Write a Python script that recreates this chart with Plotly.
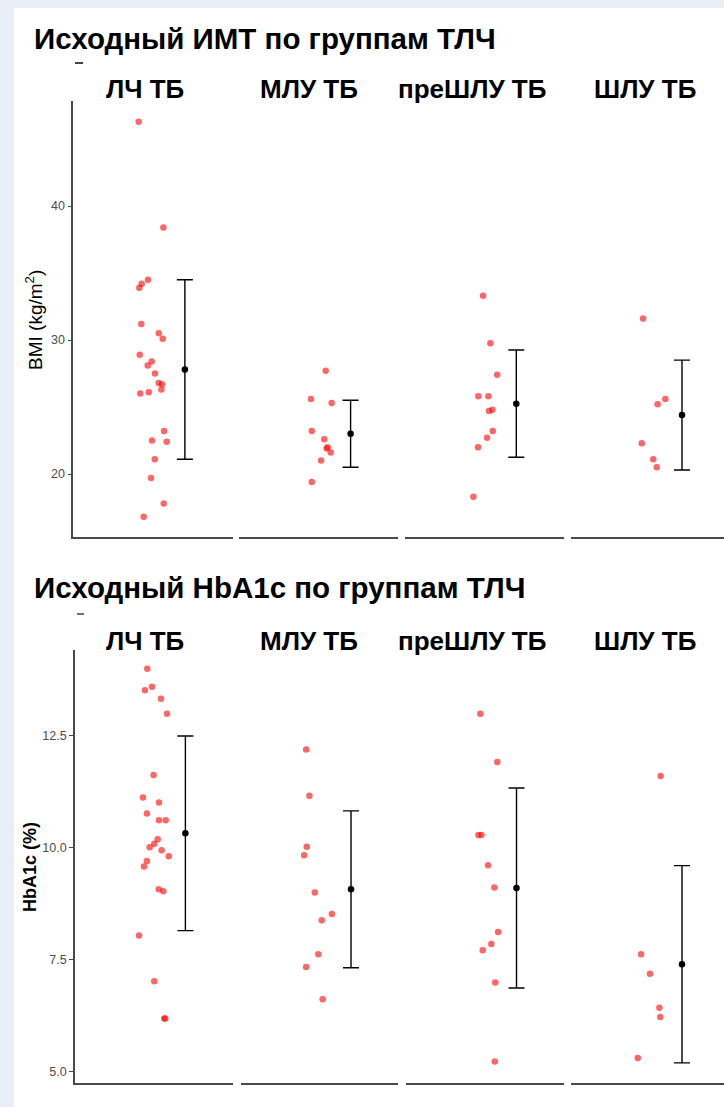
import plotly.graph_objects as go

W, H = 724, 1107

groups = ["ЛЧ ТБ", "МЛУ ТБ", "преШЛУ ТБ", "ШЛУ ТБ"]

# ---- BMI (top chart) ----
bmi_lch = [46.3, 38.4, 34.5, 34.2, 33.9, 31.2, 30.5, 30.1, 28.9, 28.1, 28.4, 27.5,
           26.8, 26.7, 26.3, 26.0, 26.1, 23.2, 22.5, 22.4, 21.1, 19.7, 17.8, 16.8]
bmi_lch_jit = [-0.108, 0.078, -0.038, -0.085, -0.103, -0.088, 0.043, 0.073, -0.100, -0.040,
               -0.010, 0.015, 0.043, 0.068, 0.063, -0.096, -0.032, 0.083, -0.008, 0.103,
               0.013, -0.015, 0.081, -0.070]
bmi_mlu = [27.7, 25.6, 25.3, 23.2, 22.6, 22.0, 21.9, 21.6, 21.0, 19.4]
bmi_mlu_jit = [0.052, -0.059, 0.097, -0.053, 0.041, 0.067, 0.059, 0.090, 0.017, -0.053]
bmi_pre = [33.3, 29.75, 27.4, 25.8, 25.8, 24.7, 24.8, 23.2, 22.7, 22.0, 18.3]
bmi_pre_jit = [-0.011, 0.044, 0.096, -0.047, 0.029, 0.034, 0.059, 0.062, 0.019, -0.049, -0.084]
bmi_shlu = [31.6, 25.6, 25.2, 22.3, 21.1, 20.5]
bmi_shlu_jit = [-0.054, 0.114, 0.056, -0.064, 0.023, 0.049]
bmi_mean = [27.8, 23.0, 25.25, 24.4]
bmi_sd = [6.7, 2.5, 4.0, 4.1]
bmi_ticks = [20, 30, 40]

# ---- HbA1c (bottom chart) ----
hba_lch = [13.99, 13.51, 13.59, 13.32, 12.99, 11.62, 11.12, 11.01, 10.76, 10.61, 10.61, 10.19,
           10.09, 10.01, 9.94, 9.81, 9.70, 9.58, 9.07, 9.03, 8.04, 7.02, 6.19, 6.19]
hba_lch_jit = [-0.050, -0.068, -0.014, 0.054, 0.100, -0.002, -0.083, 0.039, -0.053, 0.039,
               0.090, 0.029, 0.003, -0.032, 0.059, 0.113, -0.053, -0.075, 0.037, 0.072,
               -0.113, 0.003, 0.079, 0.087]
hba_mlu = [12.19, 11.16, 10.02, 9.83, 9.00, 8.52, 8.38, 7.62, 7.34, 6.62]
hba_mlu_jit = [-0.102, -0.077, -0.097, -0.117, -0.036, 0.094, 0.017, -0.009, -0.102, 0.024]
hba_pre = [12.99, 11.91, 10.28, 10.28, 9.61, 9.11, 8.12, 7.85, 7.71, 6.99, 5.23]
hba_pre_jit = [-0.034, 0.094, -0.049, -0.026, 0.024, 0.072, 0.100, 0.049, -0.016, 0.079, 0.075]
hba_shlu = [11.60, 7.62, 7.19, 6.43, 6.22, 5.31]
hba_shlu_jit = [0.079, -0.069, -0.002, 0.069, 0.076, -0.094]
hba_mean = [10.32, 9.07, 9.10, 7.40]
hba_sd = [2.17, 1.75, 2.23, 2.20]
hba_ticks = [5.0, 7.5, 10.0, 12.5]
hba_ticklabels = ["5.0", "7.5", "10.0", "12.5"]

MEAN_NUDGE = 0.24

def px(x):
    return x / W

def py(y):
    return 1 - y / H

FONT = "Liberation Sans, Arial, sans-serif"
AX_COLOR = "#4a4a4a"

fig = go.Figure()

# panel pixel geometry
top_x = [(73.3, 232.7), (239.3, 398.3), (405.0, 564.0), (570.7, 729.7)]
bot_x = [(75.0, 232.7), (240.7, 398.3), (405.7, 564.0), (570.7, 729.7)]
top_y = (101.0, 536.7)
bot_y = (650.0, 1083.0)
top_range = [15.32, 47.84]
bot_range = [4.75, 14.41]

bmi_pts = [(bmi_lch, bmi_lch_jit), (bmi_mlu, bmi_mlu_jit), (bmi_pre, bmi_pre_jit), (bmi_shlu, bmi_shlu_jit)]
hba_pts = [(hba_lch, hba_lch_jit), (hba_mlu, hba_mlu_jit), (hba_pre, hba_pre_jit), (hba_shlu, hba_shlu_jit)]

layout_axes = {}

def add_block(row, pts, means, sds, xgeom, ygeom, yrange, tickvals, ticktext):
    for i in range(4):
        n = row * 4 + i + 1
        sfx = "" if n == 1 else str(n)
        vals, jit = pts[i]
        fig.add_trace(go.Scatter(
            x=[1 + j for j in jit], y=vals, mode="markers",
            marker=dict(size=6.5, color="rgba(255,0,0,0.6)", line=dict(width=0)),
            xaxis="x" + sfx, yaxis="y" + sfx, showlegend=False, hoverinfo="y"))
        fig.add_trace(go.Scatter(
            x=[1 + MEAN_NUDGE], y=[means[i]], mode="markers",
            marker=dict(size=6.5, color="black"),
            error_y=dict(type="data", array=[sds[i]], visible=True, color="black",
                         thickness=1.4, width=8),
            xaxis="x" + sfx, yaxis="y" + sfx, showlegend=False))
        x0, x1 = xgeom[i]
        unit = (x1 - x0) / 1.2
        right = min(x1, W)
        xr = [0.4, 0.4 + (right - x0) / unit]
        layout_axes["xaxis" + sfx] = dict(
            domain=[px(x0), px(right)], range=xr, anchor="y" + sfx,
            showline=True, linecolor=AX_COLOR, linewidth=1.6, showgrid=False,
            zeroline=False, showticklabels=False, ticks="", fixedrange=True)
        ya = dict(domain=[py(ygeom[1]), py(ygeom[0])], range=yrange, anchor="x" + sfx,
                  showgrid=False, zeroline=False, fixedrange=True)
        if i == 0:
            ya.update(showline=True, linecolor=AX_COLOR, linewidth=1.6,
                      ticks="outside", ticklen=4, tickwidth=1.2, tickcolor=AX_COLOR,
                      tickvals=tickvals, ticktext=ticktext,
                      tickfont=dict(family=FONT, size=12.5, color="#4d4d4d"))
        else:
            ya.update(showline=False, showticklabels=False, ticks="")
        layout_axes["yaxis" + sfx] = ya

add_block(0, bmi_pts, bmi_mean, bmi_sd, top_x, top_y, top_range,
          bmi_ticks, [str(t) for t in bmi_ticks])
add_block(1, hba_pts, hba_mean, hba_sd, bot_x, bot_y, bot_range,
          hba_ticks, hba_ticklabels)

strip_cx = [145, 309, 472, 645]

def ann(text, x, y, size, xanchor="center", angle=0):
    return dict(text=text, x=px(x), y=py(y), xref="paper", yref="paper",
                xanchor=xanchor, yanchor="middle", showarrow=False, textangle=angle,
                font=dict(family=FONT, size=size, color="black"))

annotations = [
    ann("<b>Исходный ИМТ по группам ТЛЧ</b>", 32, 38, 29.5, xanchor="left"),
    ann("<b>Исходный HbA1c по группам ТЛЧ</b>", 32, 587, 29.5, xanchor="left"),
]
for g, cx in zip(groups, strip_cx):
    annotations.append(ann("<b>" + g + "</b>", cx, 89, 26))
    annotations.append(ann("<b>" + g + "</b>", cx, 641, 26))
annotations.append(ann("BMI (kg/m<sup>2</sup>)", 34, 320, 19, angle=-90))
annotations.append(ann("<b>HbA1c (%)</b>", 30, 867, 18, angle=-90))

shapes = [
    dict(type="rect", xref="paper", yref="paper", x0=px(14), x1=1, y0=0, y1=py(8),
         fillcolor="white", line=dict(width=0), layer="below"),
    dict(type="line", xref="paper", yref="paper", x0=px(75), x1=px(83), y0=py(63), y1=py(63),
         line=dict(color="#444444", width=2)),
    dict(type="line", xref="paper", yref="paper", x0=px(77), x1=px(84), y0=py(614), y1=py(614),
         line=dict(color="#444444", width=1.5)),
]

fig.update_layout(
    width=W, height=H, autosize=False,
    margin=dict(l=0, r=0, t=0, b=0, pad=0),
    paper_bgcolor="#e8eef6", plot_bgcolor="white",
    showlegend=False, annotations=annotations, shapes=shapes,
    **layout_axes)

fig.write_html("out.html")
